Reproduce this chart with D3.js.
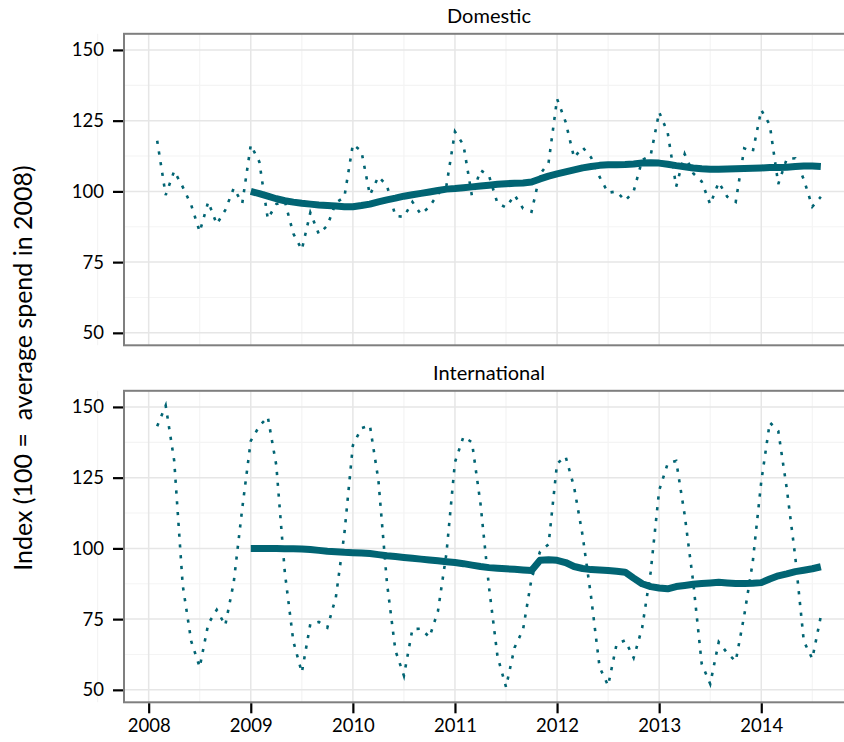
<!DOCTYPE html>
<html><head><meta charset="utf-8">
<script src="https://cdn.jsdelivr.net/npm/d3@7"></script>
<style>
body{margin:0;background:#fff}
svg{display:block}
text{font-family:Lato,"Open Sans",sans-serif;fill:#000}
</style>
</head><body>
<svg id="chart" width="844" height="742"></svg>
<script>
// ---------- data ----------
const panels = ["Domestic", "International"];
const yTicks = [50, 75, 100, 125, 150];
const xTicks = [2008, 2009, 2010, 2011, 2012, 2013, 2014];
const yTitle = "Index (100 =  average spend in 2008)";

// monthly index values, first point Jan 2008 (plotted one month after 2008.0)
const domesticMonthly = [
 117.9, 98.7, 107.2, 101.6, 95.2, 85.7, 96.3, 88.4, 93.4, 101.1, 95.8, 116.4,
 110.5, 90.3, 95.5, 96.5, 85.1, 79.4, 92.5, 84.9, 87.9, 96.0, 98.0, 116.6,
 114.3, 98.7, 105.2, 102.1, 91.3, 91.0, 96.3, 91.9, 94.6, 99.1, 102.1, 121.1,
 116.4, 98.3, 107.5, 105.5, 95.8, 94.3, 98.7, 94.0, 92.8, 106.1, 110.1, 132.7,
 124.6, 111.9, 115.6, 112.0, 105.1, 99.5, 100.0, 96.7, 100.0, 111.1, 112.7, 128.0,
 120.8, 101.7, 113.2, 106.4, 103.5, 95.4, 103.2, 98.1, 96.3, 115.2, 114.0, 128.8,
 123.5, 102.6, 111.5, 111.7, 104.2, 94.6, 98.1
];
const internationalMonthly = [
 143.2, 150.5, 131.0, 87.0, 67.2, 58.0, 73.3, 78.3, 72.8, 88.0, 114.2, 138.0,
 143.2, 146.5, 129.4, 91.6, 67.2, 56.1, 73.3, 74.0, 72.0, 82.7, 105.2, 136.4,
 142.5, 143.5, 124.1, 88.0, 63.9, 55.0, 71.5, 71.6, 68.6, 77.8, 98.3, 130.5,
 139.5, 137.5, 115.8, 86.3, 61.8, 51.0, 64.9, 71.3, 89.3, 98.9, 101.4, 130.0,
 132.5, 121.7, 104.6, 82.8, 58.0, 51.5, 66.2, 67.5, 61.3, 71.9, 91.6, 120.5,
 130.0, 130.9, 111.8, 88.1, 59.2, 52.1, 66.9, 63.0, 60.1, 76.3, 95.2, 123.6,
 144.5, 141.5, 121.1, 96.9, 67.2, 61.0, 76.0
];
// 12-month rolling averages, starting at the 12th month
const domesticRolling = [
 100.0, 99.2, 98.3, 97.4, 96.7, 96.2, 95.8, 95.5, 95.2, 95.0, 94.8, 94.6,
 94.6, 95.0, 95.5, 96.3, 97.0, 97.6, 98.3, 98.8, 99.3, 99.8, 100.3, 100.8,
 101.0, 101.3, 101.6, 101.9, 102.2, 102.5, 102.7, 102.9, 103.0, 103.3, 104.4, 105.4,
 106.2, 106.9, 107.6, 108.3, 108.8, 109.2, 109.4, 109.4, 109.5, 109.7, 110.0, 110.1,
 110.0, 109.6, 109.1, 108.7, 108.3, 108.0, 107.8, 107.8, 107.9, 108.0, 108.1, 108.2,
 108.3, 108.4, 108.4, 108.5, 108.8, 109.0, 109.0, 108.8
];
const internationalRolling = [
 100.0, 100.0, 100.0, 100.0, 99.9, 99.9, 99.8, 99.6, 99.3, 99.0, 98.8, 98.6,
 98.5, 98.4, 98.2, 97.8, 97.4, 97.1, 96.8, 96.5, 96.2, 95.9, 95.6, 95.3,
 95.0, 94.6, 94.1, 93.6, 93.2, 93.0, 92.8, 92.6, 92.4, 92.2, 95.8, 96.0,
 95.8, 95.0, 93.6, 92.9, 92.5, 92.4, 92.2, 91.9, 91.6, 89.5, 87.5, 86.5,
 86.0, 85.7, 86.5, 86.9, 87.3, 87.6, 87.8, 88.0, 87.8, 87.6, 87.6, 87.7,
 87.9, 89.2, 90.3, 91.0, 91.8, 92.3, 92.8, 93.5
];
const rollingStart = 11; // index of first rolling value in the monthly series

const startYear = 2008;
const months = domesticMonthly.map((_, i) => startYear + (i + 1) / 12);

const series = [
  {name: panels[0], monthly: domesticMonthly, rolling: domesticRolling},
  {name: panels[1], monthly: internationalMonthly, rolling: internationalRolling}
];

// ---------- layout ----------
const color = "#016473";
const svg = d3.select("#chart");
const left = 124;
const panelTops = [33.8, 390.8];
const panelH = 311.5;

const xExt = d3.extent(months);
const xPad = (xExt[1] - xExt[0]) * 0.05;
const x = d3.scaleLinear().domain([xExt[0] - xPad, xExt[1] + xPad]).range([left, 854]);
const yDomain = [45.6, 155.7];

series.forEach((s, pi) => {
  const top = panelTops[pi];
  const y = d3.scaleLinear().domain(yDomain).range([top + panelH, top]);
  const g = svg.append("g");
  const right = x.range()[1];

  // minor grid
  const minorX = d3.range(2007.5, 2015.01, 1);
  const minorY = [62.5, 87.5, 112.5, 137.5];
  g.selectAll(".mx").data(minorX).join("line")
    .attr("x1", d => x(d)).attr("x2", d => x(d))
    .attr("y1", top).attr("y2", top + panelH)
    .attr("stroke", "#f4f4f4").attr("stroke-width", 1.2);
  g.selectAll(".my").data(minorY).join("line")
    .attr("x1", left).attr("x2", right)
    .attr("y1", d => y(d)).attr("y2", d => y(d))
    .attr("stroke", "#f4f4f4").attr("stroke-width", 1.2);
  // major grid
  g.selectAll(".gx").data(xTicks).join("line")
    .attr("x1", d => x(d)).attr("x2", d => x(d))
    .attr("y1", top).attr("y2", top + panelH)
    .attr("stroke", "#e6e6e6").attr("stroke-width", 1.5);
  g.selectAll(".gy").data(yTicks).join("line")
    .attr("x1", left).attr("x2", right)
    .attr("y1", d => y(d)).attr("y2", d => y(d))
    .attr("stroke", "#e6e6e6").attr("stroke-width", 1.5);

  // monthly dotted line
  const pts = s.monthly.map((v, i) => [months[i], v]);
  const line = d3.line().x(d => x(d[0])).y(d => y(d[1]));
  g.append("path").datum(pts)
    .attr("d", line)
    .attr("fill", "none").attr("stroke", color)
    .attr("stroke-width", 2.6)
    .attr("stroke-dasharray", "3.2 7.6");

  // rolling average
  const rpts = s.rolling.map((v, i) => [months[i + rollingStart], v]);
  g.append("path").datum(rpts)
    .attr("d", line)
    .attr("fill", "none").attr("stroke", color)
    .attr("stroke-width", 7)
    .attr("stroke-linejoin", "round");

  // panel border
  g.append("rect")
    .attr("x", left).attr("y", top)
    .attr("width", right - left).attr("height", panelH)
    .attr("fill", "none").attr("stroke", "#7f7f7f").attr("stroke-width", 2);

  // y axis
  const ya = svg.append("g").attr("transform", `translate(${left - 1},0)`)
    .call(d3.axisLeft(y).tickValues(yTicks).tickSize(10).tickPadding(9));
  ya.select(".domain").remove();
  ya.selectAll(".tick line").attr("stroke", "#000").attr("stroke-width", 2.2);
  ya.selectAll(".tick text").attr("font-size", 18.5).attr("fill", "#111")
    .style("font-family", "Lato, sans-serif");

  // strip label
  svg.append("text")
    .attr("x", (left + right) / 2).attr("y", top - 10.5)
    .attr("text-anchor", "middle")
    .attr("font-size", 20)
    .text(s.name);

  if (pi === 1) {
    const xa = svg.append("g").attr("transform", `translate(0,${top + panelH + 1})`)
      .call(d3.axisBottom(x).tickValues(xTicks).tickFormat(d3.format("d")).tickSize(10).tickPadding(6));
    xa.select(".domain").remove();
    xa.selectAll(".tick line").attr("stroke", "#000").attr("stroke-width", 2.2);
    xa.selectAll(".tick text").attr("font-size", 18.5).attr("fill", "#111")
      .style("font-family", "Lato, sans-serif");
  }
});

svg.append("text")
  .attr("transform", `translate(32,${(panelTops[0] + panelTops[1] + panelH) / 2}) rotate(-90)`)
  .attr("text-anchor", "middle")
  .attr("font-size", 25)
  .style("white-space", "pre")
  .text(yTitle);
</script>
</body></html>
